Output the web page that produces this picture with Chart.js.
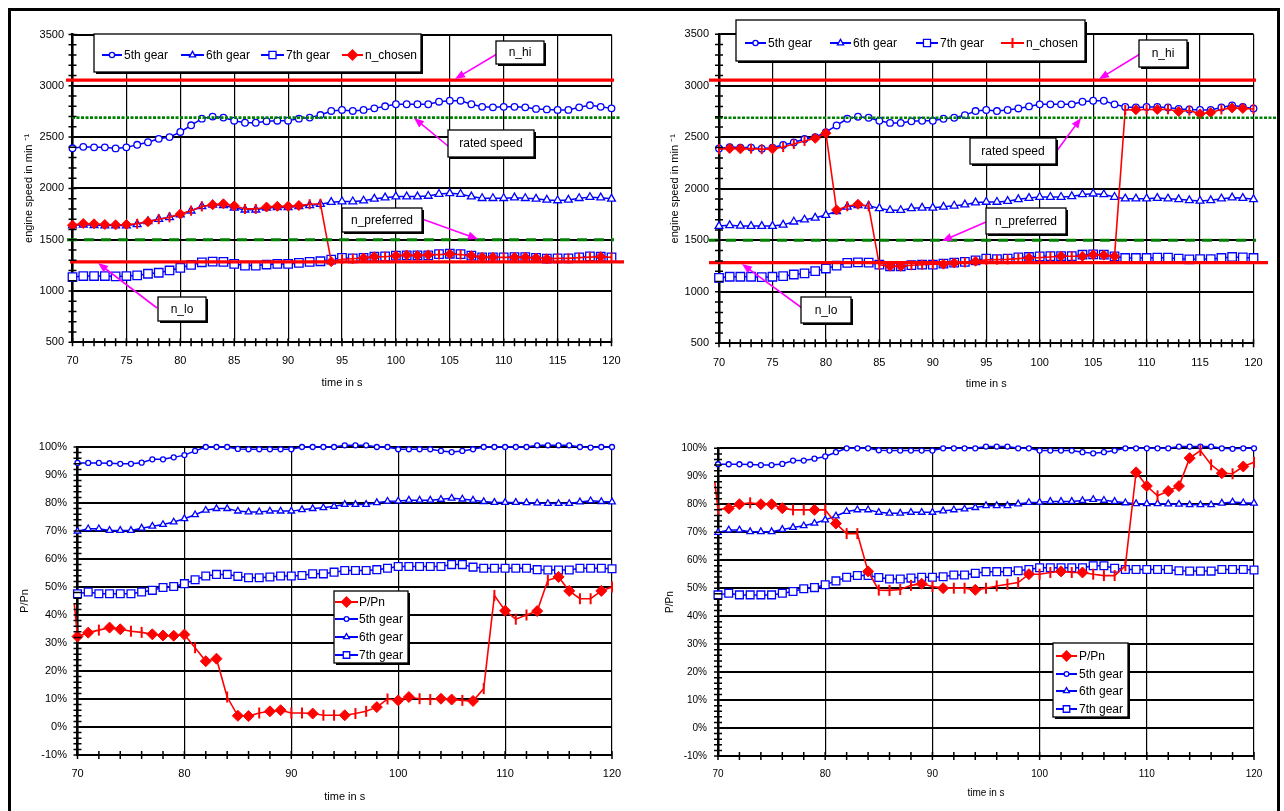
<!DOCTYPE html>
<html>
<head>
<meta charset="utf-8">
<script src="https://cdn.jsdelivr.net/npm/chart.js@4.4.1/dist/chart.umd.min.js"></script>
<style>
  body { margin: 0; background: #fff; }
  #page { position: relative; width: 1284px; height: 811px; overflow: hidden; background: #fff; }
  canvas { position: absolute; }
  .frame { position: absolute; background: #000; }
</style>
</head>
<body>
<div id="page">
  <canvas id="tl"></canvas>
  <canvas id="tr"></canvas>
  <canvas id="bl"></canvas>
  <canvas id="br"></canvas>
  <div class="frame" style="left:8px;top:8px;width:1272px;height:3px"></div>
  <div class="frame" style="left:8px;top:8px;width:3px;height:803px"></div>
  <div class="frame" style="left:1277px;top:8px;width:3px;height:803px"></div>
</div>
<script>
// time axis (s)
const time = [70,71,72,73,74,75,76,77,78,79,80,81,82,83,84,85,86,87,88,89,90,91,92,93,94,95,96,97,98,99,
              100,101,102,103,104,105,106,107,108,109,110,111,112,113,114,115,116,117,118,119,120];
const edgeTimes = [69.7, 120.3];

// engine speed per gear (min-1)
const gear5 = [2391,2405,2400,2400,2390,2400,2425,2450,2483,2500,
               2550,2615,2680,2700,2690,2660,2640,2640,2655,2660,
               2660,2680,2690,2715,2755,2765,2755,2765,2780,2800,
               2820,2820,2820,2820,2845,2855,2855,2820,2795,2790,
               2795,2795,2790,2775,2770,2765,2765,2790,2810,2795,2780];
const gear6 = [1638,1645,1640,1638,1638,1638,1650,1680,1700,1718,
               1745,1782,1824,1840,1835,1810,1792,1792,1810,1815,
               1815,1825,1835,1846,1866,1872,1872,1880,1898,1910,
               1920,1920,1920,1926,1945,1952,1945,1920,1904,1904,
               1904,1910,1904,1898,1888,1882,1888,1904,1914,1910,1898];
const gear7 = [1136,1146,1146,1146,1142,1146,1152,1168,1178,1200,
               1226,1254,1280,1286,1283,1264,1248,1248,1258,1264,
               1264,1274,1283,1290,1306,1322,1318,1322,1334,1338,
               1344,1347,1347,1347,1360,1363,1360,1344,1328,1328,
               1328,1331,1331,1322,1315,1318,1318,1328,1338,1334,1328];
const chosenLeft = [1642,1658,1655,1648,1645,1648,1655,1675,1700,1718,
                    1750,1782,1824,1840,1850,1830,1800,1800,1818,1825,
                    1825,1833,1846,1850,1286,1310,1315,1322,1334,1334,
                    1344,1350,1345,1352,1355,1360,1355,1344,1328,1328,
                    1328,1328,1328,1322,1315,1318,1318,1325,1330,1334,1328];
const chosenRight = [2385,2392,2388,2390,2385,2388,2405,2435,2465,2490,
                     2540,1795,1830,1850,1830,1262,1248,1248,1258,1262,
                     1268,1268,1280,1285,1297,1310,1312,1315,1322,1330,
                     1332,1338,1345,1345,1345,1360,1355,1345,2765,2768,
                     2770,2770,2772,2750,2760,2728,2740,2770,2785,2780,2775];
// n_hi, rated speed, n_preferred, n_lo
const refLevels = [3055, 2690, 1500, 1283];

// power in % of rated power
const pct5 = [94.3,94.3,94.3,94.2,94.0,94.0,94.4,95.6,95.6,96.3,
              97.1,98.6,100,100,100,99.3,99.2,99.2,99.2,99.2,
              99.2,100,100,100,100,100.6,100.6,100.6,100,100,
              99.2,99.2,99.2,99.2,98.6,98.2,98.6,99.2,100,100,
              100,100,100,100.6,100.6,100.6,100.6,100,99.8,100,100];
const pct6 = [69.9,70.8,70.8,70.2,70.2,70.2,71.0,71.7,72.3,73.2,
              74.4,75.8,77.4,78.0,78.0,77.1,76.8,76.8,77.1,77.1,
              77.1,77.6,78.0,78.3,78.8,79.5,79.5,79.5,80.1,80.6,
              80.7,81.0,81.0,81.0,81.3,81.7,81.4,81.0,80.5,80.2,
              80.2,80.2,80.1,80.0,79.8,79.8,79.8,80.4,80.8,80.5,80.4];
const pct7 = [47.6,48.2,47.6,47.6,47.6,47.6,48.2,48.8,49.8,50.2,
              51.2,52.6,53.9,54.5,54.5,53.8,53.3,53.3,53.6,53.9,
              53.9,54.1,54.7,54.7,55.3,55.9,55.9,55.9,56.2,56.7,
              57.3,57.3,57.3,57.3,57.3,58.0,58.0,57.1,56.7,56.7,
              56.7,56.7,56.7,56.2,56.1,56.1,56.1,56.7,56.7,56.7,56.5];
const ppnLeft = [32.3,33.7,34.6,35.5,34.9,34.2,33.8,33.1,32.7,32.6,
                 33.0,28.3,23.5,24.4,10.7,4.0,3.9,5.0,5.6,6.0,
                 5.0,5.0,4.8,4.2,4.2,4.2,4.8,5.6,7.1,10.0,
                 9.5,10.7,10.1,9.8,10.1,9.8,9.5,9.3,13.7,47.0,
                 41.5,38.5,40.0,41.4,52.4,53.6,48.6,45.8,45.8,48.6,50.0];
const ppnLeftEdges = [44, 31];
const ppnRight = [78.2,78.5,80.0,80.5,80.0,80.0,78.6,78.0,78.0,78.0,
                  78.0,73.1,69.5,69.5,56.0,49.3,49.2,49.5,51.0,51.6,
                  50.6,50.0,50.0,50.0,49.4,50.0,50.8,51.4,52.0,55.0,
                  55.0,55.6,56.0,55.6,55.6,55.0,54.5,54.5,58.0,91.4,
                  86.5,83.0,84.7,86.5,96.5,99.2,94.1,91.1,90.9,93.5,95.0];
const ppnRightEdges = [88, 77];

// marker pattern of the red series (d = diamond, c = bar)
const marksTL = 'ddddddcdcc' + 'dccdddccdd' + 'ddccdccddc' + 'ddddcdcddd' + 'cddddccccd' + 'c';
const marksTR = 'cddccdcccd' + 'ddcdccddcc' + 'cddcdccccd' + 'ccdcddddcd' + 'cdcdcddcdd' + 'c';
const marksBL = 'ddcddccddd' + 'dcddcddcdd' + 'ccdccdccdc' + 'ddccddcdcc' + 'dccdcddccd' + 'c';
const marksBR = 'cddcdddccd' + 'cdccdccccd' + 'cdccdccccd' + 'ccdcdccccd' + 'dcdddccdcd' + 'c';

const FONT = '"Liberation Sans", Arial, Helvetica, sans-serif';
const BLUE = '#0000FF', RED = '#FF0000', GREEN = '#008000', MAGENTA = '#FF00FF';

function pts(xs, ys) { return xs.map((t, i) => ({x: t, y: ys[i]})); }

function gearSet(label, ys, style, r, lr) {
  return {
    label, data: pts(time, ys), borderColor: BLUE, borderWidth: 1.5,
    pointStyle: style, pointRadius: r, pointBorderWidth: 1.3,
    pointBackgroundColor: '#fff', pointBorderColor: BLUE, pointHoverRadius: 0,
    tension: 0, clip: false,
    legendStyle: style, legendR: lr, legendFill: '#fff'
  };
}

function redSet(label, xs, ys, marks, r, legendStyle) {
  const m = marks.split('');
  return {
    label, data: pts(xs, ys), borderColor: RED, borderWidth: 1.6,
    pointStyle: m.map(c => c === 'c' ? 'line' : 'rectRot'),
    pointRotation: m.map(c => c === 'c' ? 90 : 0),
    pointRadius: m.map(c => c === '-' ? 0 : r),
    pointBorderWidth: m.map(c => c === 'c' ? 2 : 1),
    pointBackgroundColor: RED, pointBorderColor: RED, pointHoverRadius: 0,
    tension: 0, clip: false,
    legendStyle, legendR: 5, legendFill: RED
  };
}

function drawBox(ctx, x, y, w, h) {
  ctx.fillStyle = '#000';
  ctx.fillRect(x + 2, y + 2, w, h);
  ctx.fillStyle = '#fff';
  ctx.fillRect(x, y, w, h);
  ctx.strokeStyle = '#000';
  ctx.lineWidth = 1.3;
  ctx.strokeRect(x, y, w, h);
}

function drawArrow(ctx, x0, y0, x1, y1) {
  const a = Math.atan2(y1 - y0, x1 - x0), L = 10, W = 4;
  const c = Math.cos(a), s = Math.sin(a);
  ctx.strokeStyle = MAGENTA; ctx.fillStyle = MAGENTA; ctx.lineWidth = 1.6;
  ctx.beginPath(); ctx.moveTo(x0, y0); ctx.lineTo(x1 - c * L * 0.7, y1 - s * L * 0.7); ctx.stroke();
  ctx.beginPath();
  ctx.moveTo(x1, y1);
  ctx.lineTo(x1 - c * L - s * W, y1 - s * L + c * W);
  ctx.lineTo(x1 - c * L + s * W, y1 - s * L - c * W);
  ctx.closePath(); ctx.fill();
}

function decoPlugin(p) {
  const ox = p.cx, oy = p.cy;
  return {
    id: 'deco_' + p.id,
    afterDatasetsDraw(chart) {
      const ctx = chart.ctx, ys = chart.scales.y;
      (p.refs || []).forEach(r => {
        const py = ys.getPixelForValue(r.v);
        ctx.save();
        ctx.strokeStyle = r.color; ctx.lineWidth = r.w; ctx.setLineDash(r.dash || []);
        ctx.beginPath(); ctx.moveTo(r.x0 - ox, py); ctx.lineTo(r.x1 - ox, py); ctx.stroke();
        ctx.restore();
      });
    },
    afterDraw(chart) {
      const ctx = chart.ctx, a = chart.chartArea, xs = chart.scales.x, ys = chart.scales.y;
      ctx.save();
      // tick marks across the axes
      ctx.strokeStyle = '#000'; ctx.lineWidth = 1.5;
      ctx.beginPath();
      for (let v = 70; v <= 120.001; v += p.xMinor) {
        const px = xs.getPixelForValue(v);
        ctx.moveTo(px, a.bottom - 4); ctx.lineTo(px, a.bottom + 4);
      }
      for (let v = p.yMin; v <= p.yMax + 0.001; v += p.yMinor) {
        const py = ys.getPixelForValue(v);
        ctx.moveTo(a.left - 4, py); ctx.lineTo(a.left + 4, py);
      }
      ctx.stroke();

      // annotation boxes and arrows
      ctx.font = '12px ' + FONT; ctx.textAlign = 'center'; ctx.textBaseline = 'middle';
      (p.notes || []).forEach(n => {
        drawArrow(ctx, n.from[0] - ox, n.from[1] - oy, n.to[0] - ox, n.to[1] - oy);
        drawBox(ctx, n.x - ox, n.y - oy, n.w, n.h);
        ctx.fillStyle = '#000';
        ctx.fillText(n.text, n.x - ox + n.w / 2, n.y - oy + n.h / 2 + 0.5);
      });

      // legend
      const lg = p.legend;
      drawBox(ctx, lg.x - ox, lg.y - oy, lg.w, lg.h);
      lg.items.forEach(it => {
        const ds = chart.data.datasets[it.ds];
        const y = it.y - oy;
        ctx.strokeStyle = ds.borderColor; ctx.lineWidth = 2;
        ctx.beginPath(); ctx.moveTo(it.x0 - ox, y); ctx.lineTo(it.x1 - ox, y); ctx.stroke();
        ctx.fillStyle = ds.legendFill; ctx.lineWidth = ds.legendStyle === 'cross' ? 2 : 1.3;
        Chart.helpers.drawPoint(ctx, {pointStyle: ds.legendStyle, radius: ds.legendR, rotation: 0, borderWidth: 1},
          (it.x0 + it.x1) / 2 - ox, y);
        ctx.fillStyle = '#000'; ctx.textAlign = 'left';
        ctx.font = lg.font + 'px ' + FONT;
        ctx.fillText(it.text, it.tx - ox, y + 0.5);
      });
      ctx.restore();
    }
  };
}

function makeChart(p) {
  const cv = document.getElementById(p.id);
  cv.width = p.cw; cv.height = p.ch;
  cv.style.left = p.cx + 'px'; cv.style.top = p.cy + 'px';
  const pad = {top: p.area.t - p.cy, right: p.cx + p.cw - p.area.r, left: 0, bottom: 0};
  const yW = p.area.l - p.cx, xH = p.cy + p.ch - p.area.b;
  const f = {family: FONT, size: p.fs};
  new Chart(cv, {
    type: 'line',
    data: {datasets: p.datasets},
    options: {
      responsive: false, animation: false, devicePixelRatio: 1, events: [],
      layout: {padding: pad},
      plugins: {legend: {display: false}, tooltip: {enabled: false}},
      scales: {
        x: {
          type: 'linear', min: 70, max: 120,
          ticks: {stepSize: p.xStep, color: '#000', font: f, padding: p.xTickPad,
                  maxRotation: 0, autoSkip: false, callback: v => String(v)},
          grid: {color: '#000', lineWidth: 1.2, drawTicks: false},
          border: {color: '#000', width: 2},
          title: {display: true, text: 'time in s', color: '#000', font: f,
                  padding: {top: 0, bottom: p.xTitlePad}},
          afterFit: s => { s.height = xH; }
        },
        y: {
          type: 'linear', min: p.yMin, max: p.yMax,
          ticks: {stepSize: p.yStep, color: '#000', font: f, padding: p.yTickPad,
                  autoSkip: false, callback: p.yFmt},
          grid: {color: '#000', lineWidth: 2, drawTicks: false},
          border: {color: '#000', width: 2.5},
          title: {display: true, text: p.yTitle, color: '#000', font: f,
                  padding: {top: p.yTitlePad, bottom: 0}},
          afterFit: s => { s.width = yW; }
        }
      }
    },
    plugins: [decoPlugin(p)]
  });
}

const rpmFmt = v => String(v);
const pctFmt = v => v + '%';
const yTitleRpm = 'engine speed in min \u207B\u00B9';

function refsFor(ext) {
  return [
    {v: refLevels[0], color: RED, w: 3.3, x0: ext[0][0], x1: ext[0][1]},
    {v: refLevels[1], color: GREEN, w: 2.6, dash: [3, 1.5], x0: ext[1][0], x1: ext[1][1]},
    {v: refLevels[2], color: GREEN, w: 3, dash: [10, 7], x0: ext[2][0], x1: ext[2][1]},
    {v: refLevels[3], color: RED, w: 3.3, x0: ext[3][0], x1: ext[3][1]}
  ];
}

// top left
makeChart({
  id: 'tl', cx: 12, cy: 12, cw: 626, ch: 388,
  area: {l: 72.5, r: 611.5, t: 34.5, b: 342.3},
  fs: 11, xStep: 5, xMinor: 1, yMin: 500, yMax: 3500, yStep: 500, yMinor: 100, yFmt: rpmFmt,
  xTickPad: 12, xTitlePad: 10.4, yTickPad: 8.5, yTitlePad: 10.4, yTitle: yTitleRpm,
  datasets: [
    redSet('n_chosen', time, chosenLeft, marksTL, 5, 'rectRot'),
    gearSet('5th gear', gear5, 'circle', 3.3, 2.6),
    gearSet('6th gear', gear6, 'triangle', 4.5, 3.6),
    gearSet('7th gear', gear7, 'rect', 6, 5)
  ],
  refs: refsFor([[66, 614], [72, 620], [67, 614], [70, 624]]),
  notes: [
    {text: 'n_hi', x: 496, y: 41, w: 48, h: 23, from: [497, 54], to: [455, 79]},
    {text: 'rated speed', x: 448, y: 130, w: 86, h: 27, from: [448, 146], to: [414, 118]},
    {text: 'n_preferred', x: 342, y: 208, w: 80, h: 24, from: [422, 219], to: [478, 239]},
    {text: 'n_lo', x: 158, y: 297, w: 48, h: 24, from: [157, 308], to: [98, 263]}
  ],
  legend: {x: 94, y: 34, w: 327, h: 38, font: 12, items: [
    {ds: 1, text: '5th gear', x0: 102, x1: 122, tx: 124, y: 55},
    {ds: 2, text: '6th gear', x0: 181, x1: 204, tx: 206, y: 55},
    {ds: 3, text: '7th gear', x0: 261, x1: 284, tx: 286, y: 55},
    {ds: 0, text: 'n_chosen', x0: 342, x1: 363, tx: 365, y: 55}
  ]}
});

// top right
makeChart({
  id: 'tr', cx: 642, cy: 12, cw: 636, ch: 388,
  area: {l: 719, r: 1253.5, t: 34.3, b: 343.3},
  fs: 11, xStep: 5, xMinor: 1, yMin: 500, yMax: 3500, yStep: 500, yMinor: 100, yFmt: rpmFmt,
  xTickPad: 13, xTitlePad: 9.4, yTickPad: 10, yTitlePad: 26, yTitle: yTitleRpm,
  datasets: [
    redSet('n_chosen', time, chosenRight, marksTR, 5, 'cross'),
    gearSet('5th gear', gear5, 'circle', 3.3, 2.6),
    gearSet('6th gear', gear6, 'triangle', 4.5, 3.6),
    gearSet('7th gear', gear7, 'rect', 6, 5)
  ],
  refs: refsFor([[709, 1256], [715, 1277], [709, 1256], [709, 1268]]),
  notes: [
    {text: 'n_hi', x: 1139, y: 40, w: 48, h: 27, from: [1140, 54], to: [1099, 79]},
    {text: 'rated speed', x: 970, y: 138, w: 86, h: 26, from: [1056, 152], to: [1081, 118]},
    {text: 'n_preferred', x: 986, y: 208, w: 80, h: 26, from: [986, 222], to: [942, 241]},
    {text: 'n_lo', x: 801, y: 297, w: 50, h: 26, from: [802, 308], to: [742, 264]}
  ],
  legend: {x: 736, y: 20, w: 349, h: 41, font: 12, items: [
    {ds: 1, text: '5th gear', x0: 745, x1: 766, tx: 768, y: 43},
    {ds: 2, text: '6th gear', x0: 830, x1: 851, tx: 853, y: 43},
    {ds: 3, text: '7th gear', x0: 916, x1: 938, tx: 940, y: 43},
    {ds: 0, text: 'n_chosen', x0: 1001, x1: 1024, tx: 1026, y: 43}
  ]}
});

// bottom left
makeChart({
  id: 'bl', cx: 12, cy: 400, cw: 626, ch: 408,
  area: {l: 77.5, r: 612, t: 447, b: 755},
  fs: 11, xStep: 10, xMinor: 2, yMin: -10, yMax: 100, yStep: 10, yMinor: 2, yFmt: pctFmt,
  xTickPad: 12.4, xTitlePad: 4.4, yTickPad: 10.5, yTitlePad: 6.4, yTitle: 'P/Pn',
  datasets: [
    redSet('P/Pn', [edgeTimes[0], ...time, edgeTimes[1]],
           [ppnLeftEdges[0], ...ppnLeft, ppnLeftEdges[1]], '-' + marksBL + '-', 5.5, 'rectRot'),
    gearSet('5th gear', pct5, 'circle', 2.5, 2.4),
    gearSet('6th gear', pct6, 'triangle', 3.8, 3.4),
    gearSet('7th gear', pct7, 'rect', 5.5, 4.6)
  ],
  legend: {x: 334, y: 591, w: 74, h: 72, font: 12, items: [
    {ds: 0, text: 'P/Pn', x0: 335, x1: 358, tx: 359, y: 602},
    {ds: 1, text: '5th gear', x0: 335, x1: 358, tx: 359, y: 619},
    {ds: 2, text: '6th gear', x0: 335, x1: 358, tx: 359, y: 637},
    {ds: 3, text: '7th gear', x0: 335, x1: 358, tx: 359, y: 655}
  ]}
});

// bottom right
makeChart({
  id: 'br', cx: 642, cy: 400, cw: 636, ch: 408,
  area: {l: 718, r: 1254, t: 448.3, b: 756},
  fs: 10, xStep: 10, xMinor: 2, yMin: -10, yMax: 100, yStep: 10, yMinor: 2, yFmt: pctFmt,
  xTickPad: 12, xTitlePad: 9, yTickPad: 11, yTitlePad: 22.6, yTitle: 'P/Pn',
  datasets: [
    redSet('P/Pn', [edgeTimes[0], ...time, edgeTimes[1]],
           [ppnRightEdges[0], ...ppnRight, ppnRightEdges[1]], '-' + marksBR + '-', 5.5, 'rectRot'),
    gearSet('5th gear', pct5, 'circle', 2.5, 2.4),
    gearSet('6th gear', pct6, 'triangle', 3.8, 3.4),
    gearSet('7th gear', pct7, 'rect', 5.5, 4.6)
  ],
  legend: {x: 1053, y: 643, w: 75, h: 74, font: 12, items: [
    {ds: 0, text: 'P/Pn', x0: 1056, x1: 1077, tx: 1079, y: 656},
    {ds: 1, text: '5th gear', x0: 1056, x1: 1077, tx: 1079, y: 674},
    {ds: 2, text: '6th gear', x0: 1056, x1: 1077, tx: 1079, y: 691},
    {ds: 3, text: '7th gear', x0: 1056, x1: 1077, tx: 1079, y: 709}
  ]}
});
</script>
</body>
</html>
